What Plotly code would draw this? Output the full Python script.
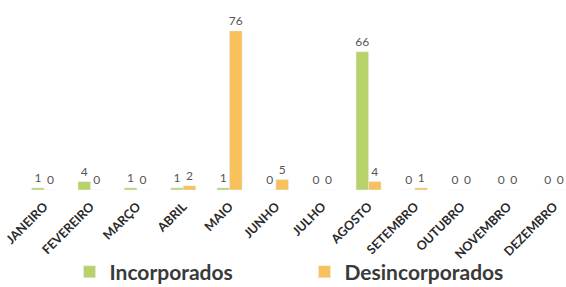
import plotly.graph_objects as go

months = ["JANEIRO", "FEVEREIRO", "MARÇO", "ABRIL", "MAIO", "JUNHO", "JULHO",
          "AGOSTO", "SETEMBRO", "OUTUBRO", "NOVEMBRO", "DEZEMBRO"]
incorporados = [1, 4, 1, 1, 1, 0, 0, 66, 0, 0, 0, 0]
desincorporados = [0, 0, 0, 2, 76, 5, 0, 4, 1, 0, 0, 0]

green = "#b7d26a"
orange = "#f8c15b"
label_font = dict(family="Lato", size=12, color="#555555")

fig = go.Figure()
fig.add_trace(go.Bar(
    name="Incorporados", x=months, y=incorporados, marker_color=green,
    text=incorporados, textposition="outside", cliponaxis=False,
    textfont=label_font, textangle=0, constraintext="none",
))
fig.add_trace(go.Bar(
    name="Desincorporados", x=months, y=desincorporados, marker_color=orange,
    text=desincorporados, textposition="outside", cliponaxis=False,
    textfont=label_font, textangle=0, constraintext="none",
))

fig.update_layout(
    width=566, height=287,
    margin=dict(l=21, r=0, t=0, b=96.5, autoexpand=False),
    paper_bgcolor="white", plot_bgcolor="white",
    barmode="group", bargap=0.46, bargroupgap=0,
    font=dict(family="Lato", color="#333333"),
    showlegend=True,
    legend=dict(
        orientation="h", xref="container", x=0.538, xanchor="center",
        yref="container", y=0.052, yanchor="middle",
        font=dict(family="Lato", size=21, color="#3a3a3a", weight="bold"),
        itemwidth=30, entrywidth=190, bgcolor="rgba(0,0,0,0)",
    ),
    xaxis=dict(
        type="category", range=[-0.5, 11.26], tickangle=-45,
        showline=False, showgrid=False, ticks="", ticklabelstandoff=6,
        tickfont=dict(family="Lato", size=12.5, color="#2a2a2a", weight="bold"),
    ),
    yaxis=dict(range=[0, 90.76], visible=False, showgrid=False, zeroline=False),
)

fig.write_html("out.html", config={"displayModeBar": False},
               post_script="document.body.style.margin='0';")
